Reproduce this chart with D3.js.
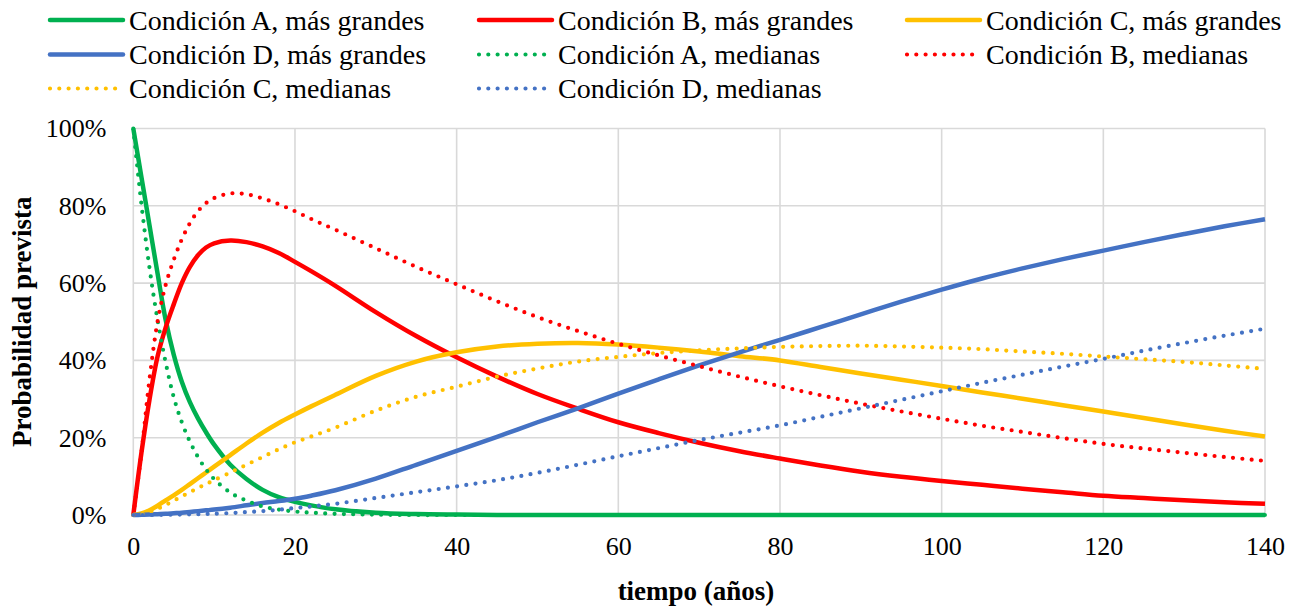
<!DOCTYPE html>
<html>
<head>
<meta charset="utf-8">
<script src="https://cdn.jsdelivr.net/npm/d3@7"></script>
<style>
  html, body { margin: 0; padding: 0; background: #ffffff; }
  svg { display: block; }
  text { font-family: "Liberation Serif", "Times New Roman", serif; fill: #000; }
</style>
</head>
<body>
<svg id="chart" width="1304" height="606"></svg>
<script>
// ---------- DATA ----------
const years = [0,1,2,3,4,5,6,7,8,9,10,12,14,16,18,20,22,25,30,35,40,45,50,55,60,65,70,75,80,85,90,95,100,105,110,115,120,125,130,135,140];

const aLarge = [100,87.5,75,62.5,50.5,41.5,34.5,29.2,25,21.4,18.2,13,9.3,6.5,4.6,3.4,2.5,1.5,0.6,0.25,0.1,0,0,0,0,0,0,0,0,0,0,0,0,0,0,0,0,0,0,0,0];
const bLarge = [0,16,29.8,41,48.5,54.5,60,64.2,67.2,69.2,70.3,71,70.6,69.5,67.8,65.5,63.1,59.3,52.5,46.3,40.8,35.8,31.3,27.5,24,21.2,18.7,16.5,14.6,12.8,11.2,9.9,8.8,7.8,6.8,5.9,5.0,4.4,3.8,3.3,2.9];
const cLarge = [0,0.4,1.2,2.4,3.8,5.1,6.5,8,9.5,11,12.5,15.5,18.5,21.3,23.8,26,28.1,31.1,36,39.7,42.1,43.6,44.3,44.5,44.1,43.3,42.3,41.1,40.0,38.3,36.6,35.0,33.4,31.7,30.1,28.4,26.8,25.1,23.4,21.8,20.3];
const dLarge = [0,0.05,0.1,0.2,0.3,0.45,0.6,0.8,1.0,1.2,1.4,1.9,2.5,3.1,3.6,4.2,5,6.4,9.4,13,16.6,20.2,24.0,27.6,31.4,35.1,38.7,42.1,45.3,48.6,51.9,55.2,58.3,61.2,63.8,66.2,68.4,70.6,72.7,74.7,76.5];
const aMedian = [100,80.5,64,50.5,39.5,30.5,24,19,15,11.8,9.3,5.8,3.7,2.2,1.4,0.9,0.6,0.3,0.1,0,0,0,0,0,0,0,0,0,0,0,0,0,0,0,0,0,0,0,0,0,0];
const bMedian = [0,16,35,50,59.5,66,71.3,75.5,78.6,80.7,82,83.2,83,81.9,80.4,78.6,76.6,73.8,69,64.2,59.7,55.3,51.2,47.6,44.3,41.3,38.5,35.8,33.3,31,28.8,26.8,24.9,23.1,21.5,19.9,18.4,17.2,16.1,15.0,14.0];
const cMedian = [0,0.2,0.8,1.6,2.6,3.7,4.8,5.9,7.0,8.0,9.0,11,13,15,17,18.8,20.3,22.6,27,30.6,33.2,35.8,37.9,39.7,40.9,41.9,42.6,43.1,43.5,43.7,43.8,43.6,43.3,42.9,42.3,41.7,41.0,40.3,39.6,38.7,37.8];
const dMedian = [0,0,0.02,0.04,0.06,0.1,0.13,0.17,0.22,0.27,0.33,0.5,0.75,1.0,1.35,1.8,2.2,2.9,4.4,5.9,7.4,9.0,10.9,13.0,15.2,17.3,19.4,21.3,23.2,25.4,27.6,29.8,32.0,34.2,36.3,38.4,40.4,42.5,44.5,46.4,48.2];

const seriesNames = [
  "Condición A, más grandes", "Condición B, más grandes", "Condición C, más grandes",
  "Condición D, más grandes", "Condición A, medianas", "Condición B, medianas",
  "Condición C, medianas", "Condición D, medianas"
];
const seriesValues = [aLarge, bLarge, cLarge, dLarge, aMedian, bMedian, cMedian, dMedian];
const seriesColors = ["#00B050", "#FF0000", "#FFC000", "#4472C4", "#00B050", "#FF0000", "#FFC000", "#4472C4"];
const seriesDotted = [false, false, false, false, true, true, true, true];

const xTicks = [0,20,40,60,80,100,120,140];
const yTicks = [0,20,40,60,80,100];
const xTitle = "tiempo (años)";
const yTitle = "Probabilidad prevista";

// ---------- LAYOUT ----------
const svg = d3.select("#chart");
const plot = { left: 133.3, right: 1265, top: 128.5, bottom: 515 };

const x = d3.scaleLinear().domain([0, 140]).range([plot.left, plot.right]);
const y = d3.scaleLinear().domain([0, 100]).range([plot.bottom, plot.top]);

// gridlines
const grid = svg.append("g");
grid.selectAll("line.h").data(yTicks).enter().append("line")
  .attr("x1", plot.left).attr("x2", plot.right)
  .attr("y1", d => y(d)).attr("y2", d => y(d))
  .attr("stroke", "#D9D9D9").attr("stroke-width", 1.6);
grid.selectAll("line.v").data(xTicks).enter().append("line")
  .attr("y1", plot.top).attr("y2", plot.bottom)
  .attr("x1", d => x(d)).attr("x2", d => x(d))
  .attr("stroke", "#D9D9D9").attr("stroke-width", 1.6);

// axes (labels only)
const fontStack = '"Liberation Serif","Times New Roman",serif';
const yAxis = d3.axisLeft(y).tickValues(yTicks).tickFormat(d => d + "%").tickSize(0).tickPadding(27);
const yg = svg.append("g").attr("transform", `translate(${plot.left},0)`).call(yAxis);
yg.attr("font-family", null).attr("font-size", null);
yg.select(".domain").remove();
yg.selectAll("text").style("font-size", "26px").style("font-family", fontStack);

const xAxis = d3.axisBottom(x).tickValues(xTicks).tickFormat(d3.format("d")).tickSize(0).tickPadding(22);
const xg = svg.append("g").attr("transform", `translate(0,${plot.bottom})`).call(xAxis);
xg.attr("font-family", null).attr("font-size", null);
xg.select(".domain").remove();
xg.selectAll("text").style("font-size", "26px").style("font-family", fontStack);

// titles
svg.append("text").attr("x", 696).attr("y", 591).attr("text-anchor", "middle")
  .attr("dominant-baseline", "central").style("font-size", "27px").style("font-weight", "bold").text(xTitle);
svg.append("text").attr("transform", `translate(22,${(plot.top + plot.bottom) / 2}) rotate(-90)`)
  .attr("text-anchor", "middle").attr("dominant-baseline", "central")
  .style("font-size", "27px").style("font-weight", "bold").text(yTitle);

// lines
const line = d3.line().curve(d3.curveCatmullRom.alpha(0.5)).x(d => x(d[0])).y(d => y(d[1]));
const lines = svg.append("g");
seriesValues.forEach((vals, i) => {
  const pts = years.map((t, j) => [t, vals[j]]);
  const p = lines.append("path").datum(pts).attr("d", line)
    .attr("fill", "none").attr("stroke", seriesColors[i]);
  if (seriesDotted[i]) {
    p.attr("stroke-width", 4.2).attr("stroke-dasharray", "0 9.3").attr("stroke-linecap", "round");
  } else {
    p.attr("stroke-width", 4.5).attr("stroke-linejoin", "round");
  }
});

// legend
const colX = [50, 479, 907];
const rowY = [20, 54.5, 88.5];
const legend = svg.append("g");
seriesNames.forEach((name, i) => {
  const cx = colX[i % 3], cy = rowY[Math.floor(i / 3)];
  const l = legend.append("line").attr("x1", cx).attr("x2", cx + 73).attr("y1", cy).attr("y2", cy)
    .attr("stroke", seriesColors[i]);
  if (seriesDotted[i]) {
    l.attr("stroke-width", 4.2).attr("stroke-dasharray", "0 9.3").attr("stroke-linecap", "round");
  } else {
    l.attr("stroke-width", 4.5).attr("stroke-linecap", "round");
  }
  legend.append("text").attr("x", cx + 79).attr("y", cy).attr("dominant-baseline", "central")
    .style("font-size", "28px").text(name);
});
</script>
</body>
</html>
